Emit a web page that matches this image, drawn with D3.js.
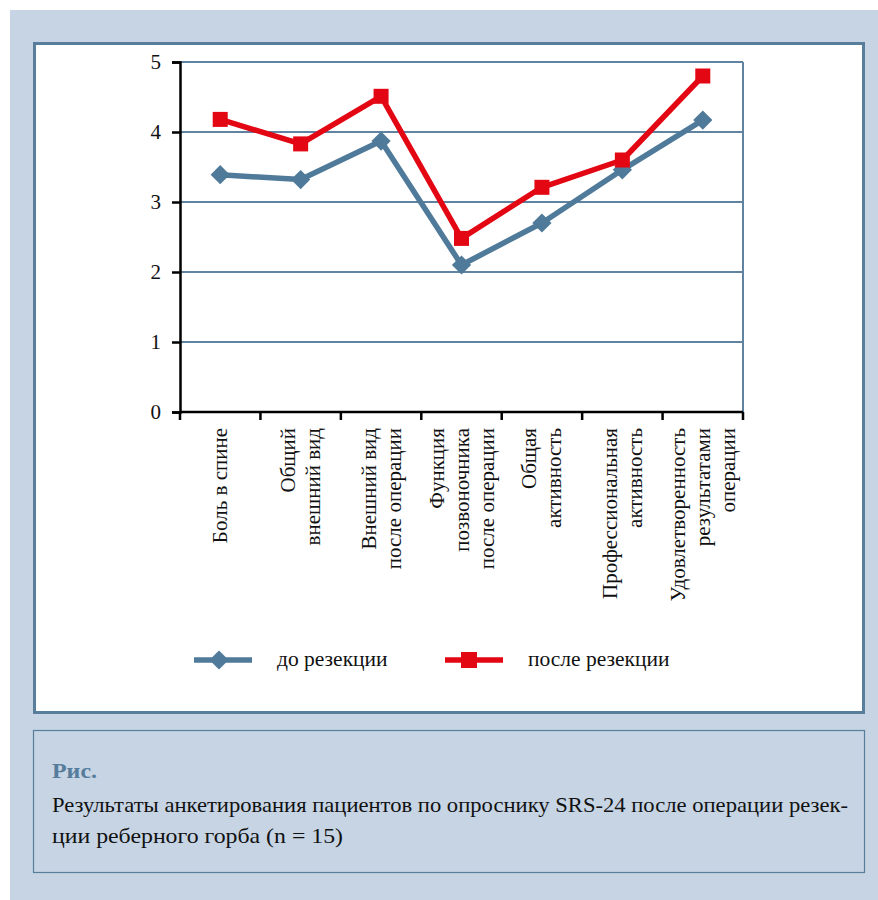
<!DOCTYPE html>
<html>
<head>
<meta charset="utf-8">
<script src="https://cdn.jsdelivr.net/npm/d3@7"></script>
</head>
<body style="margin:0; background:#fff">
<svg id="mainsvg" width="878" height="900" font-family="Liberation Serif"></svg>
<script>
// data
const categories = [
  ['Боль в спине'],
  ['Общий', 'внешний вид'],
  ['Внешний вид', 'после операции'],
  ['Функция', 'позвоночника', 'после операции'],
  ['Общая', 'активность'],
  ['Профессиональная', 'активность'],
  ['Удовлетворенность', 'результатами', 'операции']
];
const beforeValues = [3.39, 3.32, 3.87, 2.1, 2.7, 3.46, 4.17];
const afterValues = [4.18, 3.83, 4.51, 2.48, 3.21, 3.6, 4.8];
const yTicks = [0, 1, 2, 3, 4, 5];
const seriesNames = ['до резекции', 'после резекции'];

const svg = d3.select('#mainsvg');
const serif = 'Liberation Serif';
const blue = '#4f7a99';
const red = '#e30613';
const frame = '#587e9c';

// background panels
svg.append('rect').attr('x', 10).attr('y', 10).attr('width', 868).attr('height', 890).attr('fill', '#c6d4e4');
svg.append('rect').attr('x', 34.5).attr('y', 43.5).attr('width', 829).attr('height', 669)
  .attr('fill', '#fff').attr('stroke', frame).attr('stroke-width', 3);
svg.append('rect').attr('x', 33.5).attr('y', 730.5).attr('width', 831).attr('height', 142)
  .attr('fill', '#c6d4e4').attr('stroke', frame).attr('stroke-width', 1.2);

// plot
const plotLeft = 180, plotRight = 743, plotTop = 62, plotBottom = 412;
const idx = categories.map((d, i) => i);
const xScale = d3.scaleBand().domain(idx).range([plotLeft, plotRight]).padding(0);
const yScale = d3.scaleLinear().domain([0, 5]).range([plotBottom, plotTop]);
const cx = i => xScale(i) + xScale.bandwidth() / 2;

const g = svg.append('g');

// gridlines
g.selectAll('.grid').data(yTicks.filter(d => d > 0)).join('line')
  .attr('x1', plotLeft).attr('x2', plotRight)
  .attr('y1', d => yScale(d)).attr('y2', d => yScale(d))
  .attr('stroke', '#5f83a1').attr('stroke-width', 2);
g.append('line').attr('x1', plotRight).attr('x2', plotRight).attr('y1', plotTop).attr('y2', plotBottom)
  .attr('stroke', '#5f83a1').attr('stroke-width', 2);

// y axis
const yAxis = g.append('g').attr('transform', `translate(${plotLeft},0)`)
  .call(d3.axisLeft(yScale).tickValues(yTicks).tickSize(8).tickPadding(11).tickFormat(d3.format('d')));
yAxis.attr('font-family', serif).attr('font-size', 21);
yAxis.select('.domain').attr('stroke', '#000').attr('stroke-width', 2.5);
yAxis.selectAll('.tick line').attr('stroke', '#000').attr('stroke-width', 2.5);
yAxis.selectAll('.tick text').attr('fill', '#111').attr('font-family', serif).attr('font-size', 21);

// x axis
g.append('line').attr('x1', plotLeft).attr('x2', plotRight).attr('y1', plotBottom).attr('y2', plotBottom)
  .attr('stroke', '#000').attr('stroke-width', 2.5);
const bounds = idx.map(i => xScale(i)).concat([plotRight]);
g.selectAll('.xtick').data(bounds).join('line')
  .attr('x1', d => d).attr('x2', d => d).attr('y1', plotBottom).attr('y2', plotBottom + 8)
  .attr('stroke', '#000').attr('stroke-width', 2.5);

// category labels
const lineGap = 25;
categories.forEach((lines, i) => {
  const n = lines.length;
  lines.forEach((t, j) => {
    const x = cx(i) + (j - (n - 1) / 2) * lineGap + 7;
    g.append('text')
      .attr('transform', `translate(${x},428) rotate(-90)`)
      .attr('text-anchor', 'end')
      .attr('font-family', serif).attr('font-size', 21)
      .attr('fill', '#111')
      .text(t);
  });
});

// lines
const line = d3.line().x((d, i) => cx(i)).y(d => yScale(d));
g.append('path').attr('d', line(beforeValues)).attr('fill', 'none')
  .attr('stroke', blue).attr('stroke-width', 5.5).attr('stroke-linejoin', 'round');
g.append('path').attr('d', line(afterValues)).attr('fill', 'none')
  .attr('stroke', red).attr('stroke-width', 5.5).attr('stroke-linejoin', 'round');

const diamond = d3.symbol().type(d3.symbolSquare).size(185);
g.selectAll('.dia').data(beforeValues).join('path')
  .attr('d', diamond)
  .attr('transform', (d, i) => `translate(${cx(i)},${yScale(d)}) rotate(45)`)
  .attr('fill', blue);
g.selectAll('.sq').data(afterValues).join('rect')
  .attr('x', (d, i) => cx(i) - 7.5).attr('y', d => yScale(d) - 7.5)
  .attr('width', 15).attr('height', 15).attr('fill', red);

// legend
const legend = [
  {name: seriesNames[0], color: blue, x: 194},
  {name: seriesNames[1], color: red, x: 445}
];
legend.forEach((l, i) => {
  const lg = svg.append('g').attr('transform', `translate(${l.x},660)`);
  lg.append('line').attr('x1', 0).attr('x2', 58).attr('y1', 0).attr('y2', 0)
    .attr('stroke', l.color).attr('stroke-width', 5.5);
  if (i === 0) {
    lg.append('path').attr('d', diamond).attr('transform', 'translate(25,0) rotate(45)').attr('fill', l.color);
  } else {
    lg.append('rect').attr('x', 16).attr('y', -8).attr('width', 16).attr('height', 16).attr('fill', l.color);
  }
  lg.append('text').attr('x', 83).attr('y', 6)
    .attr('font-family', serif).attr('font-size', 21.5)
    .attr('fill', '#111').text(l.name);
});

// caption
svg.append('text').attr('x', 52).attr('y', 778)
  .attr('font-family', serif).attr('font-size', 22).attr('font-weight', 'bold')
  .attr('fill', '#557c9b').attr('textLength', 45).attr('lengthAdjust', 'spacingAndGlyphs').text('Рис.');
svg.append('text').attr('x', 52).attr('y', 812)
  .attr('font-family', serif).attr('font-size', 22).attr('fill', '#111')
  .attr('textLength', 796).attr('lengthAdjust', 'spacingAndGlyphs')
  .text('Результаты анкетирования пациентов по опроснику SRS-24 после операции резек-');
svg.append('text').attr('x', 52).attr('y', 843)
  .attr('font-family', serif).attr('font-size', 22).attr('fill', '#111')
  .attr('textLength', 291).attr('lengthAdjust', 'spacingAndGlyphs')
  .text('ции реберного горба (n = 15)');
</script>
</body>
</html>
